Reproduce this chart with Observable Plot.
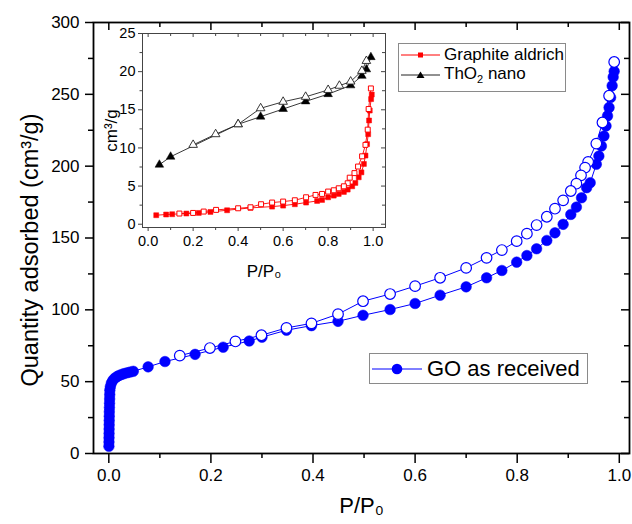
<!DOCTYPE html>
<html>
<head>
<meta charset="utf-8">
<script src="https://cdn.jsdelivr.net/npm/d3@7"></script>
<script src="https://cdn.jsdelivr.net/npm/@observablehq/plot@0.6"></script>
<style>
  html, body { margin: 0; padding: 0; background: white; }
  #wrap { position: relative; width: 632px; height: 524px; font-family: "Liberation Sans", Arial, sans-serif; }
  #wrap svg { position: absolute; }
  .legend { position: absolute; border: 1px solid #8a8a8a; background: white; box-sizing: border-box; }
  .row { position: absolute; left: 0; display: flex; align-items: center; white-space: nowrap; color: black; }
  .row svg { position: static !important; }
</style>
</head>
<body>
<div id="wrap"></div>
<script>
// ---------------- Main chart data: GO as received ----------------
const goAdsX = [0.0002,0.0003,0.0004,0.0005,0.0006,0.0007,0.0008,0.0009,0.001,0.0012,0.0014,0.0016,0.0018,0.002,
  0.003,0.005,0.008,0.012,0.016,0.02,0.025,0.03,0.036,0.042,0.048,
  0.077,0.11,0.169,0.224,0.275,0.3,0.348,0.397,0.449,0.498,0.551,0.6,0.649,0.7,0.74,0.77,0.799,0.819,0.838,0.858,
  0.874,0.89,0.905,0.916,0.926,0.936,0.943,0.955,0.96,0.965,0.97,0.974,0.977,0.98,0.983,0.986,0.988,0.99];
const goAdsY = [5,8,11,14,17,20,23,26,29,32,35,38,41,44,
  46.5,49,51,52.5,53.5,54.3,55,55.6,56.2,56.7,57.2,
  60.3,64,69,74,78.3,81,85.8,89,92,96.2,100.2,104.4,110.2,116,122.3,127.4,133.2,137.8,142.5,148.3,
  153.6,159.5,166.4,171.5,178,185,188.5,201.3,207,214,221,228,235,240.8,247.8,256,262,266];
const goDesX = [0.99,0.98,0.967,0.955,0.939,0.933,0.925,0.916,0.905,0.89,0.874,0.858,0.838,0.819,0.799,0.77,0.74,0.7,0.649,0.6,0.551,0.498,0.449,0.397,0.348,0.299,0.248,0.198,0.139];
const goDesY = [272.5,249,230.4,215.7,203,199,193.6,187.8,182.7,176.2,170.4,164.8,159,153,147.8,141.6,136.2,129.2,122.3,116.5,111,106,97,90.6,87.4,82.3,78,73.4,68.1];

const xTicksMain = [0, 0.2, 0.4, 0.6, 0.8, 1.0];
const xMinorMain = [0.1, 0.3, 0.5, 0.7, 0.9];
const yTicksMain = [0, 50, 100, 150, 200, 250, 300];
const yMinorMain = [25, 75, 125, 175, 225, 275];

// ---------------- Inset data ----------------
const grAdsX = [0.036,0.08,0.107,0.17,0.225,0.277,0.351,0.455,0.551,0.6,0.652,0.702,0.751,0.773,0.8,0.825,0.847,0.87,0.887,0.907,0.921,0.936,0.948,0.959,0.966,0.973,0.978,0.982,0.985,0.991,0.994];
const grAdsY = [1.18,1.27,1.31,1.4,1.48,1.61,1.83,2.14,2.31,2.44,2.62,2.84,3.05,3.18,3.53,3.75,3.97,4.23,4.54,4.97,5.41,6.15,6.8,7.9,9.0,10.5,11.8,13.6,14.9,16.4,17.0];
const grDesX = [0.99,0.98,0.976,0.966,0.951,0.933,0.917,0.896,0.887,0.87,0.847,0.825,0.8,0.773,0.744,0.702,0.652,0.6,0.551,0.502,0.455,0.4,0.302,0.247,0.2,0.139];
const grDesY = [17.8,15.1,12.4,10.4,8.9,7.56,6.7,6.1,5.37,4.97,4.71,4.45,4.28,3.97,3.84,3.53,3.14,2.97,2.84,2.62,2.22,2.09,1.88,1.66,1.48,1.4];
const thAdsX = [0.05,0.1,0.4,0.5,0.6,0.7,0.8,0.9,0.95,0.97,0.99];
const thAdsY = [7.8,8.85,13.1,14.1,15.1,16.1,17.05,18.2,19.45,20.3,21.9];
const thDesX = [0.97,0.95,0.9,0.85,0.8,0.7,0.6,0.5,0.4,0.3,0.2];
const thDesY = [21.4,20.1,18.7,18.15,17.6,16.7,16.05,15.2,13.1,11.8,10.4];

const xTicksIn = [0, 0.2, 0.4, 0.6, 0.8, 1.0];
const xMinorIn = [0.1, 0.3, 0.5, 0.7, 0.9];
const yTicksIn = [0, 5, 10, 15, 20, 25];
const yMinorIn = [2.5, 7.5, 12.5, 17.5, 22.5];

const zip = (xs, ys) => xs.map((x, i) => ({x, y: ys[i]}));
const goAds = zip(goAdsX, goAdsY), goDes = zip(goDesX, goDesY);
const grAds = zip(grAdsX, grAdsY), grDes = zip(grDesX, grDesY);
const thAds = zip(thAdsX, thAdsY), thDes = zip(thDesX, thDesY);

const FONT = "'Liberation Sans', Arial, sans-serif";
const wrap = document.getElementById("wrap");

// ---------------- Main plot ----------------
const W = 632, H = 524;
const mm = {top: 22, right: 3, bottom: 71, left: 93};
const pw = W - mm.left - mm.right, ph = H - mm.top - mm.bottom;
const fmt1 = d3.format(".1f");

const main = Plot.plot({
  width: W, height: H,
  marginTop: mm.top, marginRight: mm.right, marginBottom: mm.bottom, marginLeft: mm.left,
  style: {fontFamily: FONT, background: "white", color: "black"},
  x: {domain: [-0.03, 1.02]},
  y: {domain: [0, 300]},
  marks: [
    Plot.axisX({anchor: "bottom", ticks: xTicksMain, tickSize: 10, tickPadding: 5, tickFormat: fmt1, fontSize: 17, label: null, strokeWidth: 1.5}),
    Plot.axisX({anchor: "bottom", ticks: xMinorMain, tickSize: 5, tickFormat: () => "", label: null, strokeWidth: 1.5}),
    Plot.axisY({anchor: "left", ticks: yTicksMain, tickSize: 8, tickPadding: 6, fontSize: 17, label: null, strokeWidth: 1.5}),
    Plot.axisY({anchor: "left", ticks: yMinorMain, tickSize: 5, tickFormat: () => "", label: null, strokeWidth: 1.5}),
    Plot.tickX(xTicksMain, {x: d => d, insetBottom: ph - 8, stroke: "black", strokeWidth: 1.5}),
    Plot.tickX(xMinorMain, {x: d => d, insetBottom: ph - 5, stroke: "black", strokeWidth: 1.5}),
    Plot.tickY(yTicksMain, {y: d => d, insetLeft: pw - 8, stroke: "black", strokeWidth: 1.5}),
    Plot.tickY(yMinorMain, {y: d => d, insetLeft: pw - 5, stroke: "black", strokeWidth: 1.5}),
    Plot.line(goAds, {x: "x", y: "y", stroke: "#0000ff", strokeWidth: 1}),
    Plot.dot(goAds, {x: "x", y: "y", r: 5.3, fill: "#0000ff", stroke: "#0000ff", strokeWidth: 0.5}),
    Plot.line(goDes, {x: "x", y: "y", stroke: "#0000ff", strokeWidth: 1}),
    Plot.dot(goDes, {x: "x", y: "y", r: 5.3, fill: "white", stroke: "#0000ff", strokeWidth: 1.2}),
    Plot.frame({stroke: "black", strokeWidth: 1.8}),
    Plot.text(["Quantity adsorbed (cm³/g)"], {frameAnchor: "left", textAnchor: "middle", dx: -63, dy: 12, rotate: -90, fontSize: 23.5, fill: "black"}),
    Plot.text(["P/P₀"], {frameAnchor: "bottom", textAnchor: "middle", dy: 59, fontSize: 22, fill: "black"})
  ]
});
main.style.left = "0px"; main.style.top = "0px";
wrap.appendChild(main);

// ---------------- Inset plot ----------------
const IW = 300, IH = 265, ILeft = 100, ITop = 25;
const im = {top: 8, right: 15, bottom: 63, left: 42};
const ipw = IW - im.left - im.right, iph = IH - im.top - im.bottom;
const inset = Plot.plot({
  width: IW, height: IH,
  marginTop: im.top, marginRight: im.right, marginBottom: im.bottom, marginLeft: im.left,
  style: {fontFamily: FONT, background: "transparent", color: "black", overflow: "visible"},
  x: {domain: [-0.025, 1.055]},
  y: {domain: [-0.43, 25]},
  marks: [
    Plot.frame({fill: "white"}),
    Plot.axisX({anchor: "bottom", ticks: xTicksIn, tickSize: 4, tickPadding: 4, tickFormat: fmt1, fontSize: 14.5, label: null, stroke: "#444"}),
    Plot.axisX({anchor: "bottom", ticks: xMinorIn, tickSize: 3, tickFormat: () => "", label: null, stroke: "#444"}),
    Plot.axisY({anchor: "left", ticks: yTicksIn, tickSize: 4, tickPadding: 3, fontSize: 14.5, label: null, stroke: "#444"}),
    Plot.axisY({anchor: "left", ticks: yMinorIn, tickSize: 2.5, tickFormat: () => "", label: null, stroke: "#444"}),
    Plot.tickX(xTicksIn, {x: d => d, insetBottom: iph - 4, stroke: "#444"}),
    Plot.tickX(xMinorIn, {x: d => d, insetBottom: iph - 3, stroke: "#444"}),
    Plot.tickY(yTicksIn, {y: d => d, insetLeft: ipw - 4, stroke: "#444"}),
    Plot.tickY(yMinorIn, {y: d => d, insetLeft: ipw - 3, stroke: "#444"}),
    Plot.line(thAds, {x: "x", y: "y", stroke: "#222", strokeWidth: 0.9}),
    Plot.line(thDes, {x: "x", y: "y", stroke: "#222", strokeWidth: 0.9}),
    Plot.dot(thAds, {x: "x", y: "y", symbol: "triangle", r: 3.2, fill: "black", stroke: "black", strokeWidth: 0.5}),
    Plot.dot(thDes, {x: "x", y: "y", symbol: "triangle", r: 3.2, fill: "white", stroke: "#222", strokeWidth: 0.9}),
    Plot.line(grAds, {x: "x", y: "y", stroke: "#ff0000", strokeWidth: 0.9}),
    Plot.line(grDes, {x: "x", y: "y", stroke: "#ff0000", strokeWidth: 0.9}),
    Plot.dot(grAds, {x: "x", y: "y", symbol: "square", r: 2.8, fill: "#ff0000", stroke: "#ff0000", strokeWidth: 0.5}),
    Plot.dot(grDes, {x: "x", y: "y", symbol: "square", r: 2.8, fill: "white", stroke: "#ff0000", strokeWidth: 1}),
    Plot.frame({stroke: "#444", strokeWidth: 1}),
    Plot.text(["cm³/g"], {frameAnchor: "left", textAnchor: "middle", dx: -31, rotate: -90, fontSize: 17, fill: "black"}),
    Plot.text(["P/P₀"], {frameAnchor: "bottom", textAnchor: "middle", dy: 49, fontSize: 17, fill: "black"})
  ]
});
inset.style.left = ILeft + "px"; inset.style.top = ITop + "px";
wrap.appendChild(inset);

// ---------------- Legends (HTML) ----------------
function legendBox(left, top, w, h) {
  const d = document.createElement("div");
  d.className = "legend";
  Object.assign(d.style, {left: left + "px", top: top + "px", width: w + "px", height: h + "px"});
  wrap.appendChild(d);
  return d;
}
function row(box, cy, sampleW, markerSvg, stroke, label, fontSize, gap) {
  const r = document.createElement("div");
  r.className = "row";
  r.style.top = (cy - 12) + "px";
  r.style.height = "24px";
  r.style.fontSize = fontSize + "px";
  r.innerHTML = `<svg width="${sampleW}" height="24" style="margin-left:2px;margin-right:${gap}px"><line x1="0" x2="${sampleW}" y1="12" y2="12" stroke="${stroke}" stroke-width="1"/>${markerSvg}</svg><span>${label}</span>`;
  box.appendChild(r);
}
const mainLeg = legendBox(369, 353, 219, 31);
row(mainLeg, 14.5, 50, `<circle cx="25" cy="12" r="5.3" fill="#0000ff"/>`, "#0000ff", "GO as received", 22, 5);

const inLeg = legendBox(398, 43, 168, 49);
row(inLeg, 10.5, 39, `<rect x="17" y="9.5" width="5" height="5" fill="#ff0000"/>`, "#ff0000", "Graphite aldrich", 17, 4);
row(inLeg, 30.5, 39, `<path d="M19.5,8.5L23.5,15L15.5,15Z" fill="black"/>`, "#222", "ThO<sub style='font-size:11px;vertical-align:-4px'>2</sub> nano", 17, 4);
</script>
</body>
</html>
